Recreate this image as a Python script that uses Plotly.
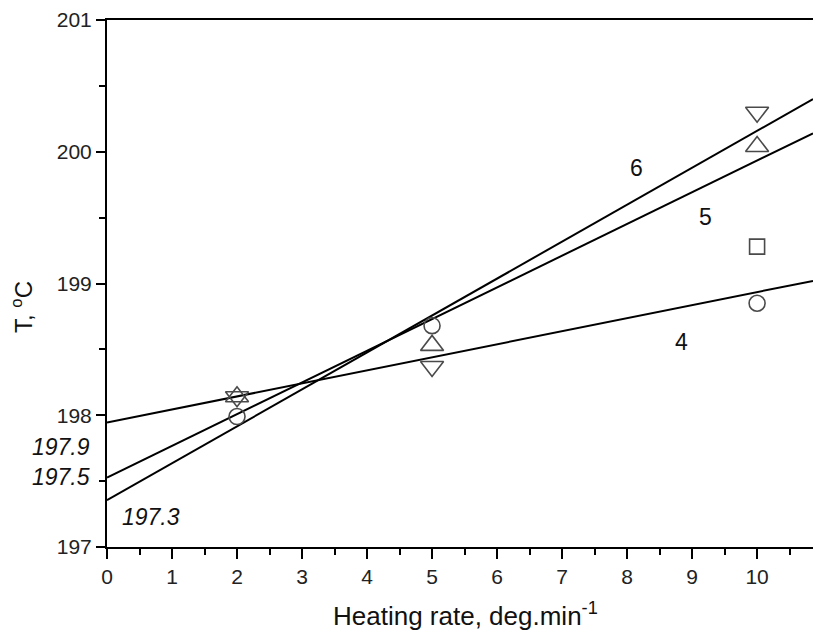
import plotly.graph_objects as go

# Fitted lines (endpoints)
line_x = [0, 10.86]
line4_y = [197.945, 199.02]
line5_y = [197.527, 200.14]
line6_y = [197.355, 200.40]

# Experimental points
circle_x = [2, 5, 10]
circle_y = [197.99, 198.68, 198.85]
tri_up_x = [2, 5, 10]
tri_up_y = [198.14, 198.53, 200.04]
tri_down_x = [2, 5, 10]
tri_down_y = [198.14, 198.37, 200.30]
square_x = [10]
square_y = [199.28]

x_ticks = list(range(0, 11))
y_ticks = [197, 198, 199, 200, 201]

FONT = "Liberation Sans, Arial, sans-serif"
MC = "#4a4a4a"

fig = go.Figure()
for ys in (line4_y, line5_y, line6_y):
    fig.add_trace(go.Scatter(x=line_x, y=ys, mode="lines",
                             line=dict(color="black", width=2), showlegend=False))

def pts(xs, ys, sym, size):
    fig.add_trace(go.Scatter(x=xs, y=ys, mode="markers", showlegend=False,
                             marker=dict(symbol=sym, size=size, color=MC,
                                         line=dict(color=MC, width=1.6))))

pts(circle_x, circle_y, "circle-open", 16)
pts(tri_up_x, tri_up_y, "triangle-up-open", 20)
pts(tri_down_x, tri_down_y, "triangle-down-open", 20)
pts(square_x, square_y, "square-open", 15)

X0, XR = 0, 10.86
def px(v):
    return (v - X0) / (XR - X0)

annos = [
    dict(x=px(-0.23), y=197.757, text="<i>197.9</i>", xanchor="right", size=23),
    dict(x=px(-0.23), y=197.532, text="<i>197.5</i>", xanchor="right", size=23),
    dict(x=px(0.68), y=197.228, text="<i>197.3</i>", xanchor="center", size=23),
    dict(x=px(8.15), y=199.875, text="6", xanchor="center", size=23),
    dict(x=px(9.2), y=199.506, text="5", xanchor="center", size=23),
    dict(x=px(8.84), y=198.557, text="4", xanchor="center", size=23),
]
for a in annos:
    fig.add_annotation(x=a["x"], y=a["y"], xref="paper", yref="y", text=a["text"],
                       showarrow=False, xanchor=a["xanchor"], yanchor="middle",
                       font=dict(family=FONT, size=a["size"], color="#111"))

fig.add_annotation(xref="paper", yref="paper", x=-0.1204, y=0.4554,
                   text="T, <sup>o</sup>C", textangle=-90, showarrow=False,
                   xanchor="center", yanchor="middle",
                   font=dict(family=FONT, size=24, color="#111"))
fig.add_annotation(xref="paper", yref="paper", x=0.5075, y=-0.129,
                   text="Heating rate, deg.min<sup>-1</sup>", showarrow=False,
                   xanchor="center", yanchor="middle",
                   font=dict(family=FONT, size=26, color="#111"))

fig.update_layout(
    width=813, height=635,
    margin=dict(l=107, r=0, t=20, b=88),
    paper_bgcolor="white", plot_bgcolor="white",
    font=dict(family=FONT, color="#111"),
    xaxis=dict(range=[X0, XR], tickvals=x_ticks, ticktext=[str(v) for v in x_ticks],
               showgrid=False, zeroline=False, showline=True, linecolor="black",
               linewidth=2, mirror=True, ticks="outside", ticklen=10, tickwidth=2,
               tickcolor="black", tickfont=dict(size=21, family=FONT, color="#222"),
               minor=dict(dtick=0.5, tick0=0, ticks="outside", ticklen=6, tickwidth=2,
                          tickcolor="black", showgrid=False)),
    yaxis=dict(range=[197, 201], tickvals=y_ticks, ticktext=[str(v) for v in y_ticks],
               showgrid=False, zeroline=False, showline=True, linecolor="black",
               linewidth=2, ticks="outside", ticklen=9, tickwidth=2,
               tickcolor="black", tickfont=dict(size=21, family=FONT, color="#222"),
               minor=dict(dtick=0.5, tick0=197, ticks="outside", ticklen=6, tickwidth=2,
                          tickcolor="black", showgrid=False)),
)

fig.write_html("out.html")
